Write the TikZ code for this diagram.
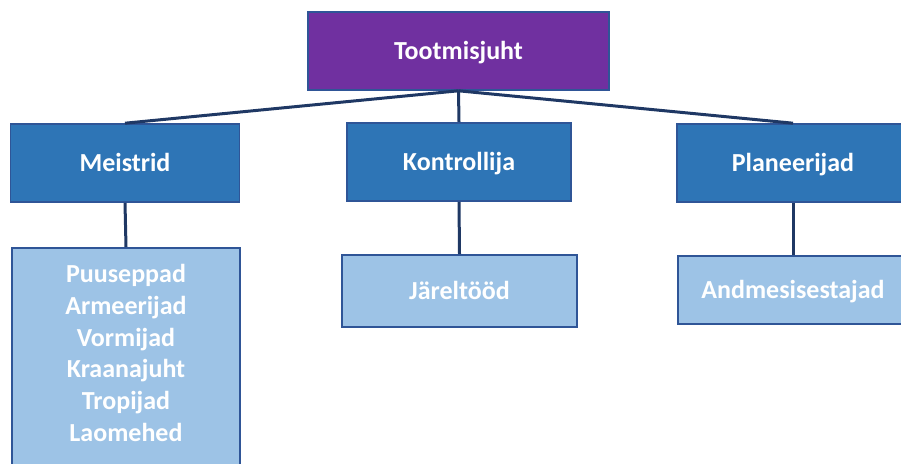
\documentclass[tikz,border=0pt]{standalone}
\usepackage{fontspec}
\setmainfont{Carlito}
\definecolor{headpurple}{HTML}{7030A0}
\definecolor{midblue}{HTML}{2E75B6}
\definecolor{lightblue}{HTML}{9DC3E6}
\definecolor{boxedge}{HTML}{2F5597}
\definecolor{linknavy}{HTML}{1F3864}
\begin{document}
\begin{tikzpicture}[x=1pt,y=-1pt,
  box/.style={draw=boxedge,line width=1.6pt,text=white,font=\fontsize{26}{32}\selectfont\bfseries,
    align=center,inner sep=0pt,rectangle,text height=22pt,text depth=5pt},
  headbox/.style={box,fill=headpurple},
  rolebox/.style={box,fill=midblue},
  teambox/.style={box,fill=lightblue},
  link/.style={draw=linknavy,line width=3pt}]
\useasboundingbox (0,0) rectangle (901,463);
% head
\node[headbox,minimum width=301pt,minimum height=78pt] (head) at (458.5,51) {Tootmisjuht};
% second level
\node[rolebox,minimum width=229pt,minimum height=78pt] (meis) at (125,163) {Meistrid};
\node[rolebox,minimum width=224pt,minimum height=78pt] (kont) at (459,162) {Kontrollija};
\node[rolebox,minimum width=232pt,minimum height=78pt] (plan) at (793,163) {Planeerijad};
% third level
\node[teambox,minimum width=228pt,minimum height=226pt,anchor=north] (team) at (126,247) {};
\node[teambox,minimum width=235pt,minimum height=72pt] (jarel) at (459.5,291) {Järeltööd};
\node[teambox,minimum width=230pt,minimum height=68pt] (andm) at (793,290) {Andmesisestajad};
\node[text=white,font=\fontsize{26}{31.8}\selectfont\bfseries,align=center,inner sep=0pt] (teamtext) at (126,353)
  {Puuseppad\\Armeerijad\\Vormijad\\Kraanajuht\\Tropijad\\Laomehed};
% connectors
\coordinate (hub) at (head.south);
\draw[link] (hub) -- (meis.north);
\draw[link] (hub) -- (kont.north);
\draw[link] (hub) -- (plan.north);
\draw[link] (meis.south) -- (team.north);
\draw[link] (kont.south) -- (jarel.north);
\draw[link] (plan.south) -- (andm.north);
\end{tikzpicture}
\end{document}
